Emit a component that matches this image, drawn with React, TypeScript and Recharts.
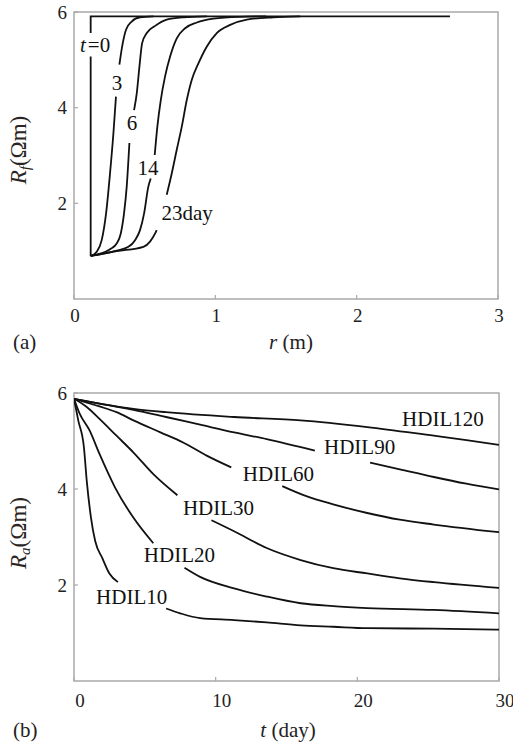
import React from "react";
import { LineChart, Line, XAxis, YAxis, ReferenceArea, ReferenceDot } from "recharts";

const SERIF = '"Liberation Serif", "DejaVu Serif", "Times New Roman", serif';
const INK = "#111";
const FRAME = "#a9a9a9";
const TEXT = "#222";

// ---- (a) Rf profile against radius, one curve per day ----
const rTicks = [0, 1, 2, 3];
const rfTicks = [2, 4, 6];

type RP = { r: number; rf: number | null };

const rfDay0: RP[] = [
  { r: 0.118, rf: 0.9 },
  { r: 0.118, rf: 5.07 },
  { r: 0.118, rf: null },
  { r: 0.118, rf: 5.56 },
  { r: 0.118, rf: 5.91 },
  { r: 2.66, rf: 5.91 },
];

const rfDay3: RP[] = [
  { r: 0.118, rf: 0.9 },
  { r: 0.161, rf: 0.99 },
  { r: 0.196, rf: 1.23 },
  { r: 0.227, rf: 1.79 },
  { r: 0.255, rf: 2.63 },
  { r: 0.279, rf: 3.47 },
  { r: 0.297, rf: 4.23 },
  { r: 0.31, rf: null },
  { r: 0.321, rf: 4.9 },
  { r: 0.345, rf: 5.35 },
  { r: 0.368, rf: 5.63 },
  { r: 0.408, rf: 5.8 },
  { r: 0.467, rf: 5.89 },
  { r: 0.562, rf: 5.91 },
];

const rfDay6: RP[] = [
  { r: 0.118, rf: 0.9 },
  { r: 0.255, rf: 1.04 },
  { r: 0.302, rf: 1.16 },
  { r: 0.331, rf: 1.37 },
  { r: 0.354, rf: 1.79 },
  { r: 0.373, rf: 2.35 },
  { r: 0.392, rf: 3.26 },
  { r: 0.41, rf: null },
  { r: 0.425, rf: 3.95 },
  { r: 0.444, rf: 4.3 },
  { r: 0.463, rf: 4.86 },
  { r: 0.482, rf: 5.35 },
  { r: 0.515, rf: 5.56 },
  { r: 0.574, rf: 5.71 },
  { r: 0.656, rf: 5.84 },
  { r: 0.774, rf: 5.89 },
  { r: 0.94, rf: 5.91 },
];

const rfDay14: RP[] = [
  { r: 0.118, rf: 0.9 },
  { r: 0.302, rf: 1.01 },
  { r: 0.385, rf: 1.09 },
  { r: 0.432, rf: 1.23 },
  { r: 0.467, rf: 1.44 },
  { r: 0.496, rf: 1.79 },
  { r: 0.526, rf: 2.35 },
  { r: 0.543, rf: 2.52 },
  { r: 0.557, rf: null },
  { r: 0.571, rf: 3.01 },
  { r: 0.59, rf: 3.61 },
  { r: 0.614, rf: 4.16 },
  { r: 0.644, rf: 4.65 },
  { r: 0.68, rf: 5.07 },
  { r: 0.727, rf: 5.45 },
  { r: 0.786, rf: 5.66 },
  { r: 0.869, rf: 5.78 },
  { r: 0.987, rf: 5.86 },
  { r: 1.176, rf: 5.9 },
  { r: 1.36, rf: 5.91 },
];

const rfDay23: RP[] = [
  { r: 0.118, rf: 0.9 },
  { r: 0.302, rf: 1.0 },
  { r: 0.491, rf: 1.09 },
  { r: 0.538, rf: 1.2 },
  { r: 0.574, rf: 1.37 },
  { r: 0.585, rf: 1.44 },
  { r: 0.62, rf: null },
  { r: 0.656, rf: 2.18 },
  { r: 0.692, rf: 2.63 },
  { r: 0.727, rf: 3.12 },
  { r: 0.763, rf: 3.61 },
  { r: 0.798, rf: 4.16 },
  { r: 0.833, rf: 4.58 },
  { r: 0.881, rf: 4.93 },
  { r: 0.94, rf: 5.28 },
  { r: 1.01, rf: 5.56 },
  { r: 1.105, rf: 5.73 },
  { r: 1.223, rf: 5.84 },
  { r: 1.41, rf: 5.89 },
  { r: 1.6, rf: 5.91 },
];

const rfCurves = [rfDay0, rfDay3, rfDay6, rfDay14, rfDay23];

const rfTags = [
  { r: 0.149, rf: 5.31, lead: "t", text: "=0" },
  { r: 0.305, rf: 4.52, lead: "", text: "3" },
  { r: 0.41, rf: 3.68, lead: "", text: "6" },
  { r: 0.524, rf: 2.74, lead: "", text: "14" },
  { r: 0.8, rf: 1.8, lead: "", text: "23day" },
];

// ---- (b) apparent resistivity of each HDIL curve against time ----
const tTicks = [0, 10, 20, 30];
const raTicks = [2, 4, 6];

type TP = { t: number; ra: number | null };

const hdil120: TP[] = [
  { t: 0, ra: 5.88 },
  { t: 4.2, ra: 5.67 },
  { t: 6.5, ra: 5.6 },
  { t: 11.3, ra: 5.5 },
  { t: 16.0, ra: 5.43 },
  { t: 20.7, ra: 5.29 },
  { t: 25.4, ra: 5.11 },
  { t: 27.7, ra: 5.02 },
  { t: 30, ra: 4.92 },
];

const hdil90: TP[] = [
  { t: 0, ra: 5.88 },
  { t: 1.8, ra: 5.78 },
  { t: 4.2, ra: 5.65 },
  { t: 6.5, ra: 5.5 },
  { t: 8.9, ra: 5.34 },
  { t: 11.3, ra: 5.18 },
  { t: 13.6, ra: 5.04 },
  { t: 17.0, ra: 4.8 },
  { t: 19.0, ra: null },
  { t: 20.9, ra: 4.55 },
  { t: 23.0, ra: 4.41 },
  { t: 25.4, ra: 4.25 },
  { t: 27.7, ra: 4.11 },
  { t: 30, ra: 3.99 },
];

const hdil60: TP[] = [
  { t: 0, ra: 5.88 },
  { t: 1.8, ra: 5.72 },
  { t: 3.0, ra: 5.6 },
  { t: 4.2, ra: 5.43 },
  { t: 6.1, ra: 5.18 },
  { t: 7.7, ra: 4.97 },
  { t: 9.4, ra: 4.69 },
  { t: 11.1, ra: 4.45 },
  { t: 13.0, ra: null },
  { t: 14.7, ra: 4.06 },
  { t: 16.4, ra: 3.85 },
  { t: 18.3, ra: 3.68 },
  { t: 20.7, ra: 3.5 },
  { t: 23.0, ra: 3.36 },
  { t: 25.4, ra: 3.26 },
  { t: 30, ra: 3.1 },
];

const hdil30: TP[] = [
  { t: 0, ra: 5.88 },
  { t: 0.9, ra: 5.71 },
  { t: 1.8, ra: 5.46 },
  { t: 3.0, ra: 5.11 },
  { t: 4.2, ra: 4.76 },
  { t: 5.6, ra: 4.31 },
  { t: 7.3, ra: 3.87 },
  { t: 8.5, ra: null },
  { t: 9.7, ra: 3.35 },
  { t: 11.3, ra: 3.12 },
  { t: 13.6, ra: 2.77 },
  { t: 16.0, ra: 2.52 },
  { t: 18.3, ra: 2.35 },
  { t: 20.7, ra: 2.24 },
  { t: 23.0, ra: 2.14 },
  { t: 25.4, ra: 2.06 },
  { t: 30, ra: 1.94 },
];

const hdil20: TP[] = [
  { t: 0, ra: 5.88 },
  { t: 0.4, ra: 5.57 },
  { t: 1.1, ra: 5.22 },
  { t: 1.8, ra: 4.73 },
  { t: 2.9, ra: 4.03 },
  { t: 4.2, ra: 3.4 },
  { t: 5.6, ra: 2.87 },
  { t: 6.7, ra: null },
  { t: 7.8, ra: 2.36 },
  { t: 8.9, ra: 2.17 },
  { t: 11.3, ra: 1.93 },
  { t: 13.6, ra: 1.76 },
  { t: 16.0, ra: 1.62 },
  { t: 18.3, ra: 1.56 },
  { t: 20.7, ra: 1.52 },
  { t: 25.4, ra: 1.48 },
  { t: 30, ra: 1.41 },
];

const hdil10: TP[] = [
  { t: 0, ra: 5.88 },
  { t: 0.3, ra: 5.43 },
  { t: 0.7, ra: 4.87 },
  { t: 0.9, ra: 4.17 },
  { t: 1.2, ra: 3.4 },
  { t: 1.5, ra: 2.91 },
  { t: 2.0, ra: 2.56 },
  { t: 2.5, ra: 2.24 },
  { t: 3.1, ra: 2.06 },
  { t: 4.8, ra: null },
  { t: 6.5, ra: 1.51 },
  { t: 7.5, ra: 1.41 },
  { t: 8.9, ra: 1.31 },
  { t: 11.3, ra: 1.27 },
  { t: 13.6, ra: 1.22 },
  { t: 16.0, ra: 1.16 },
  { t: 18.3, ra: 1.13 },
  { t: 20.7, ra: 1.1 },
  { t: 25.4, ra: 1.09 },
  { t: 30, ra: 1.07 },
];

const raCurves = [hdil120, hdil90, hdil60, hdil30, hdil20, hdil10];

const raTags = [
  { t: 26.04, ra: 5.46, text: "HDIL120" },
  { t: 20.16, ra: 4.88, text: "HDIL90" },
  { t: 14.43, ra: 4.32, text: "HDIL60" },
  { t: 10.2, ra: 3.61, text: "HDIL30" },
  { t: 7.44, ra: 2.63, text: "HDIL20" },
  { t: 4.07, ra: 1.76, text: "HDIL10" },
];

const TICK_MARGIN = 8;
const serifStyle = { fontFamily: SERIF };

function xTick(dy: number, dx: number) {
  return (props: any) => {
    const { x, y, payload } = props;
    const axisY = y - TICK_MARGIN;
    return (
      <g>
        <line x1={x} x2={x} y1={axisY} y2={axisY - 4} stroke={FRAME} strokeWidth={1.2} />
        <text
          x={x + dx}
          y={axisY + dy}
          textAnchor="middle"
          dominantBaseline="central"
          style={serifStyle}
          fontSize={19}
          fill={TEXT}
        >
          {payload.value}
        </text>
      </g>
    );
  };
}

function yTick(props: any) {
  const { x, y, payload } = props;
  const axisX = x + TICK_MARGIN;
  return (
    <g>
      <line x1={axisX} x2={axisX + 4} y1={y} y2={y} stroke={FRAME} strokeWidth={1.2} />
      <text
        x={axisX - 7}
        y={y}
        textAnchor="end"
        dominantBaseline="central"
        style={serifStyle}
        fontSize={19}
        fill={TEXT}
      >
        {payload.value}
      </text>
    </g>
  );
}

function tag(lead: string, text: string) {
  return (props: any) => {
    const vb = props.viewBox || {};
    const cx = (vb.x ?? 0) + (vb.width ?? 0) / 2;
    const cy = (vb.y ?? 0) + (vb.height ?? 0) / 2;
    return (
      <text
        x={cx}
        y={cy}
        textAnchor="middle"
        dominantBaseline="central"
        style={serifStyle}
        fontSize={21}
        fill={INK}
      >
        {lead ? <tspan fontStyle="italic">{lead}</tspan> : null}
        <tspan dx={lead ? 2 : 0}>{text}</tspan>
      </text>
    );
  };
}

const overlay: React.CSSProperties = {
  position: "absolute",
  fontFamily: SERIF,
  fontSize: 21,
  color: TEXT,
  whiteSpace: "nowrap",
  lineHeight: "24px",
};

function YTitle({ x, y, sub }: { x: number; y: number; sub: string }) {
  return (
    <div
      style={{
        ...overlay,
        fontSize: 23,
        left: x,
        top: y,
        transform: "translate(-50%, -50%) rotate(-90deg)",
        color: "#2b2623",
      }}
    >
      <i>R</i>
      <sub style={{ fontSize: 15, fontStyle: "italic", verticalAlign: "-4px" }}>{sub}</sub>
      (Ωm)
    </div>
  );
}

function XTitle({ x, y, v, unit }: { x: number; y: number; v: string; unit: string }) {
  return (
    <div style={{ ...overlay, left: x, top: y, transform: "translate(-50%, -50%)" }}>
      <i>{v}</i> ({unit})
    </div>
  );
}

export default function App() {
  return (
    <div style={{ position: "absolute", left: 0, top: 0, width: 513, height: 744, background: "#fff" }}>
      <div style={{ position: "absolute", left: 0, top: 0 }}>
        <LineChart width={513} height={372} margin={{ top: 12, right: 15, bottom: 43, left: 14 }}>
          <XAxis
            type="number"
            dataKey="r"
            domain={[0, 3]}
            ticks={rTicks}
            allowDataOverflow
            axisLine={false}
            tickLine={false}
            tickSize={0}
            tickMargin={TICK_MARGIN}
            height={30}
            tick={xTick(16, 1)}
          />
          <YAxis
            type="number"
            domain={[0, 6]}
            ticks={rfTicks}
            allowDataOverflow
            axisLine={false}
            tickLine={false}
            tickSize={0}
            tickMargin={TICK_MARGIN}
            width={60}
            tick={yTick}
          />
          <ReferenceArea x1={0} x2={3} y1={0} y2={6} fill="none" fillOpacity={0} stroke={FRAME} strokeWidth={1.5} />
          {rfCurves.map((d, i) => (
            <Line
              key={i}
              data={d}
              dataKey="rf"
              type={i === 0 ? "linear" : "monotone"}
              stroke={INK}
              strokeWidth={1.8}
              dot={false}
              connectNulls={false}
              isAnimationActive={false}
            />
          ))}
          {rfTags.map((g) => (
            <ReferenceDot
              key={g.text}
              x={g.r}
              y={g.rf}
              r={0}
              fill="none"
              stroke="none"
              label={tag(g.lead, g.text)}
            />
          ))}
        </LineChart>
      </div>
      <div style={{ position: "absolute", left: 0, top: 372 }}>
        <LineChart width={513} height={372} margin={{ top: 21, right: 14, bottom: 33, left: 14 }}>
          <XAxis
            type="number"
            dataKey="t"
            domain={[0, 30]}
            ticks={tTicks}
            allowDataOverflow
            axisLine={false}
            tickLine={false}
            tickSize={0}
            tickMargin={TICK_MARGIN}
            height={30}
            tick={xTick(19, 6)}
          />
          <YAxis
            type="number"
            domain={[0, 6]}
            ticks={raTicks}
            allowDataOverflow
            axisLine={false}
            tickLine={false}
            tickSize={0}
            tickMargin={TICK_MARGIN}
            width={60}
            tick={yTick}
          />
          <ReferenceArea x1={0} x2={30} y1={0} y2={6} fill="none" fillOpacity={0} stroke={FRAME} strokeWidth={1.5} />
          {raCurves.map((d, i) => (
            <Line
              key={i}
              data={d}
              dataKey="ra"
              type="monotone"
              stroke={INK}
              strokeWidth={1.8}
              dot={false}
              connectNulls={false}
              isAnimationActive={false}
            />
          ))}
          {raTags.map((g) => (
            <ReferenceDot
              key={g.text}
              x={g.t}
              y={g.ra}
              r={0}
              fill="none"
              stroke="none"
              label={tag("", g.text)}
            />
          ))}
        </LineChart>
      </div>
      <div style={{ ...overlay, left: 13, top: 330 }}>(a)</div>
      <XTitle x={291} y={342} v="r" unit="m" />
      <YTitle x={22} y={150} sub="f" />
      <div style={{ ...overlay, left: 13, top: 718 }}>(b)</div>
      <XTitle x={288} y={730} v="t" unit="day" />
      <YTitle x={22} y={533} sub="a" />
    </div>
  );
}
